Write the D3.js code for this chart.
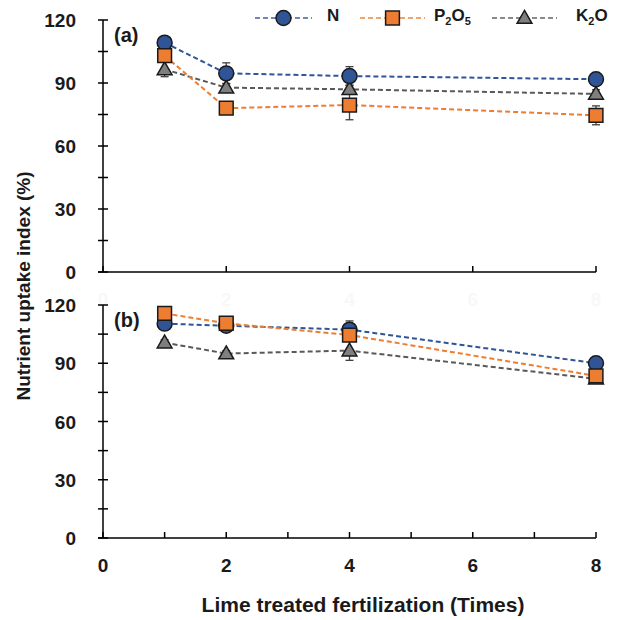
<!DOCTYPE html>
<html>
<head>
<meta charset="utf-8">
<script src="https://cdn.jsdelivr.net/npm/d3@7"></script>
<style>
  body { margin: 0; background: #fff; }
  svg { font-family: "Liberation Sans", Arial, sans-serif; font-weight: bold; }
</style>
</head>
<body>
<svg id="chart" width="618" height="620"></svg>
<script>
// data
var times = [1, 2, 4, 8];
var xTicksTop = [0, 2, 4, 6, 8];
var xTicksBottom = [0, 1, 2, 3, 4, 5, 6, 7, 8];
var xLabels = [0, 2, 4, 6, 8];
var yLabels = [0, 30, 60, 90, 120];
var yTicks = [0, 15, 30, 45, 60, 75, 90, 105, 120];

var nA = [109.2, 94.6, 93.3, 91.8];
var nAErr = [1.5, 5, 4.5, 1.5];
var pA = [103, 78, 79.5, 74.6];
var pAErr = [2, 1.5, 7, 4.5];
var kA = [96.5, 87.8, 87, 84.8];
var kAErr = [3.5, 2, 2, 2];

var nB = [110.4, 109.3, 107.3, 90];
var nBErr = [1.5, 1.5, 4.5, 1.5];
var pB = [115.7, 110.6, 104.5, 83.5];
var pBErr = [2, 2.5, 2, 1.5];
var kB = [100.6, 95, 96.5, 82];
var kBErr = [1.5, 1.5, 5, 1.5];

var series = [
    {key: 'K', label: ['K', '2', 'O'], fill: '#7f7f7f', line: '#595959', shape: d3.symbolTriangle, size: 95},
    {key: 'N', label: ['N'], fill: '#2f5597', line: '#2f5597', shape: d3.symbolCircle, size: 175},
    {key: 'P', label: ['P', '2', 'O', '5'], fill: '#ed7d31', line: '#ed7d31', shape: d3.symbolSquare, size: 190}
];

var panels = [
    {name: '(a)', top: 20, bottom: 272, ticks: xTicksTop, showLabels: false,
     data: {N: [nA, nAErr], P: [pA, pAErr], K: [kA, kAErr]}},
    {name: '(b)', top: 305, bottom: 538, ticks: xTicksBottom, showLabels: true,
     data: {N: [nB, nBErr], P: [pB, pBErr], K: [kB, kBErr]}}
];

var svg = d3.select('#chart');
var x = d3.scaleLinear().domain([0, 8]).range([103, 596]);

panels.forEach(function(p){
    var y = d3.scaleLinear().domain([0, 120]).range([p.bottom, p.top]);
    var g = svg.append('g');

    // y axis with ticks that cross the line
    g.append('line')
        .attr('x1', x(0)).attr('x2', x(0))
        .attr('y1', y(0)).attr('y2', y(120))
        .attr('stroke', '#000').attr('stroke-width', 1.5);
    g.selectAll('line.yt').data(yTicks).enter().append('line')
        .attr('class', 'yt')
        .attr('x1', x(0) - 5).attr('x2', x(0) + 5)
        .attr('y1', function(d){ return y(d); })
        .attr('y2', function(d){ return y(d); })
        .attr('stroke', '#000').attr('stroke-width', 1.5);
    g.selectAll('text.yl').data(yLabels).enter().append('text')
        .attr('class', 'yl')
        .attr('x', 76)
        .attr('y', function(d){ return y(d) + 7; })
        .attr('text-anchor', 'end')
        .attr('font-size', 19)
        .attr('fill', '#1a1a1a')
        .text(function(d){ return d; });

    // x axis, ticks pointing up
    g.append('line')
        .attr('x1', x(0) - 5).attr('x2', x(8))
        .attr('y1', y(0)).attr('y2', y(0))
        .attr('stroke', '#000').attr('stroke-width', 1.5);
    g.selectAll('line.xt').data(p.ticks).enter().append('line')
        .attr('class', 'xt')
        .attr('x1', function(d){ return x(d); })
        .attr('x2', function(d){ return x(d); })
        .attr('y1', y(0)).attr('y2', y(0) - 6)
        .attr('stroke', '#000').attr('stroke-width', 1.5);
    g.selectAll('text.xl').data(xLabels).enter().append('text')
        .attr('class', 'xl')
        .attr('x', function(d){ return x(d); })
        .attr('y', y(0) + 34)
        .attr('text-anchor', 'middle')
        .attr('font-size', 19)
        .attr('fill', p.showLabels ? '#1a1a1a' : '#f8f8f8')
        .text(function(d){ return d; });

    g.append('text')
        .attr('x', 114).attr('y', p.top + 22)
        .attr('font-size', 20)
        .attr('fill', '#1a1a1a')
        .text(p.name);

    // dashed lines first, then error bars and markers
    series.forEach(function(s){
        var vals = p.data[s.key][0];
        var line = d3.line()
            .x(function(d, i){ return x(times[i]); })
            .y(function(d){ return y(d); });
        g.append('path')
            .datum(vals)
            .attr('d', line)
            .attr('fill', 'none')
            .attr('stroke', s.line)
            .attr('stroke-width', 2)
            .attr('stroke-dasharray', '5,3');
    });

    series.forEach(function(s){
        var vals = p.data[s.key][0];
        var errs = p.data[s.key][1];
        var eb = g.append('g');
        vals.forEach(function(v, i){
            var cx = x(times[i]);
            eb.append('line')
                .attr('x1', cx).attr('x2', cx)
                .attr('y1', y(v - errs[i])).attr('y2', y(v + errs[i]))
                .attr('stroke', '#404040').attr('stroke-width', 1.3);
            [v - errs[i], v + errs[i]].forEach(function(e){
                eb.append('line')
                    .attr('x1', cx - 4).attr('x2', cx + 4)
                    .attr('y1', y(e)).attr('y2', y(e))
                    .attr('stroke', '#404040').attr('stroke-width', 1.3);
            });
        });
    });

    series.forEach(function(s){
        var vals = p.data[s.key][0];
        g.selectAll('path.m' + s.key).data(vals).enter().append('path')
            .attr('class', 'm' + s.key)
            .attr('d', d3.symbol().type(s.shape).size(s.size))
            .attr('transform', function(d, i){
                var dy = s.key == 'K' ? 1 : 0;
                return 'translate(' + x(times[i]) + ',' + (y(d) + dy) + ')';
            })
            .attr('fill', s.fill)
            .attr('stroke', '#1a1a1a')
            .attr('stroke-width', 1.5);
    });
});

// legend
var legendItems = [
    {s: series[1], x0: 255, x1: 312, tx: 327},
    {s: series[2], x0: 360, x1: 425, tx: 434},
    {s: series[0], x0: 492, x1: 557, tx: 576}
];
var lg = svg.append('g');
legendItems.forEach(function(it){
    var s = it.s;
    lg.append('line')
        .attr('x1', it.x0).attr('x2', it.x1)
        .attr('y1', 18).attr('y2', 18)
        .attr('stroke', s.line).attr('stroke-opacity', 0.7)
        .attr('stroke-width', 2)
        .attr('stroke-dasharray', '5,3');
    lg.append('path')
        .attr('d', d3.symbol().type(s.shape).size(s.size))
        .attr('transform', 'translate(' + ((it.x0 + it.x1) / 2) + ',' + (s.key == 'K' ? 19 : 18) + ')')
        .attr('fill', s.fill)
        .attr('stroke', '#1a1a1a')
        .attr('stroke-width', 1.5);
    var t = lg.append('text')
        .attr('x', it.tx).attr('y', 25)
        .attr('font-size', 17)
        .attr('fill', '#1a1a1a');
    s.label.forEach(function(part){
        if (/\d/.test(part)) {
            t.append('tspan').attr('font-size', 11).attr('dy', 4).text(part);
        } else {
            t.append('tspan').attr('dy', t.selectAll('tspan').size() > 0 ? -4 : 0).text(part);
        }
    });
});

// axis titles
svg.append('text')
    .attr('x', 363).attr('y', 612)
    .attr('text-anchor', 'middle')
    .attr('font-size', 21)
    .attr('fill', '#1a1a1a')
    .text('Lime treated fertilization (Times)');
svg.append('text')
    .attr('transform', 'translate(30,286) rotate(-90)')
    .attr('text-anchor', 'middle')
    .attr('font-size', 19)
    .attr('fill', '#1a1a1a')
    .text('Nutrient uptake index (%)');
</script>
</body>
</html>
